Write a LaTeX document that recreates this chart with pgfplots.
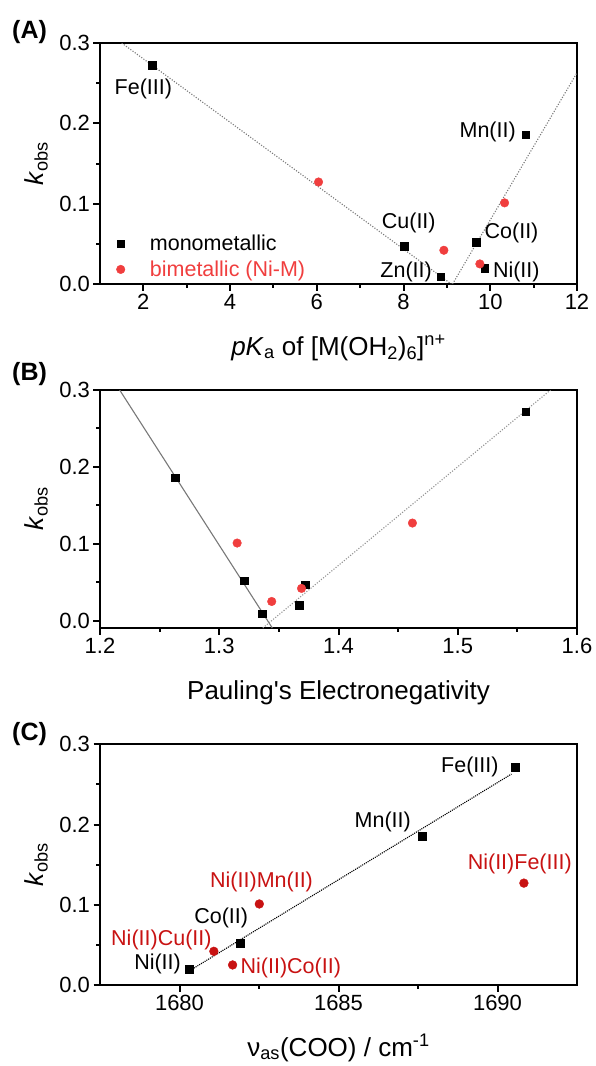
\documentclass[border=0pt]{standalone}
\usepackage{fontspec}
\setmainfont{Liberation Sans}[Ligatures=TeXOff]
\usepackage{pgfplots}
\pgfplotsset{compat=1.18}

\definecolor{lightred}{RGB}{240,62,62}
\definecolor{darkred}{RGB}{200,18,18}
\definecolor{fitgray}{RGB}{120,120,120}

\tikzset{note/.style={font=\fontsize{21.5}{25}\selectfont, inner sep=0pt}}

\pgfplotsset{
  panel/.style={
    scale only axis, width=477pt, anchor=north west,
    axis line style={line width=2pt},
    every tick/.style={line width=2pt, black},
    major tick length=6.5pt, minor tick length=3.8pt,
    tick align=outside, tick pos=left,
    minor tick num=1,
    /pgf/number format/assume math mode=true,
    ticklabel style={font=\fontsize{22}{26}\selectfont},
    every axis x label/.style={at={(axis description cs:0.5,0)}, anchor=base, yshift=-71pt,
      font=\fontsize{26}{30}\selectfont},
    every axis y label/.style={at={(axis description cs:-0.134,0.5)}, rotate=90, anchor=center,
      font=\fontsize{26}{30}\selectfont},
    ylabel={\textit{k}\textsubscript{obs}},
    ytick={0,0.1,0.2,0.3},
    yticklabel style={/pgf/number format/.cd, fixed, fixed zerofill, precision=1},
    clip mode=individual,
  },
  mono/.style={only marks, mark=square*, mark size=3.8pt, black,
    legend image code/.code={\path (-4pt,0pt) (28pt,0pt); \draw[##1] plot coordinates {(0pt,0pt)};}},
  bi/.style={only marks, mark=*, mark size=4.3pt, color=lightred,
    legend image code/.code={\path (-4pt,0pt) (28pt,0pt); \draw[##1] plot coordinates {(0pt,0pt)};}},
}

\begin{document}
\begin{tikzpicture}
\useasboundingbox (0,0) rectangle (596pt,-1066pt);

% (A) rate constant against the pKa of the hexaaqua ion
\begin{axis}[panel, at={(100pt,-43pt)}, height=241pt,
  xmin=1, xmax=12, ymin=0, ymax=0.3, xtick={2,4,6,8,10,12},
  xlabel={\textit{p}\textit{K}\textsubscript{a} of [M(OH\textsubscript{2})\textsubscript{6}]\textsuperscript{n+}},
  legend style={at={(axis description cs:0.034,0.2075)}, anchor=north west,
    draw=none, fill=none, inner sep=0pt, row sep=6.6pt,
    nodes={inner sep=1pt}, cells={anchor=west},
    font=\fontsize{21.5}{25}\selectfont},
]
\addplot[forget plot, fitgray, line width=1.1pt, dash pattern=on 1.1pt off 1.6pt]
  coordinates {(1.50,0.3) (9.10,0)};
\addplot[forget plot, fitgray, line width=1.1pt, dash pattern=on 1.1pt off 1.6pt]
  coordinates {(9.13,0) (12,0.263)};
\addplot[mono] table {
x y
2.20 0.272
8.02 0.047
8.86 0.009
9.67 0.052
9.87 0.020
10.82 0.186
};
\addlegendentry{monometallic}
\addplot[bi] table {
x y
6.04 0.127
8.93 0.042
9.76 0.025
10.33 0.101
};
\addlegendentry{\textcolor{lightred}{bimetallic (Ni-M)}}
\node[note] at (axis cs:2.00,0.243) {Fe(III)};
\node[note] at (axis cs:9.94,0.189) {Mn(II)};
\node[note] at (axis cs:8.12,0.0765) {Cu(II)};
\node[note] at (axis cs:10.49,0.063) {Co(II)};
\node[note] at (axis cs:8.06,0.0154) {Zn(II)};
\node[note] at (axis cs:10.60,0.0154) {Ni(II)};
\end{axis}

% (B) rate constant against Pauling electronegativity
\begin{axis}[panel, at={(100pt,-390pt)}, height=238pt,
  xmin=1.2, xmax=1.6, ymin=-0.0095, ymax=0.3, xtick={1.2,1.3,1.4,1.5,1.6},
  xticklabel style={/pgf/number format/.cd, fixed, fixed zerofill, precision=1},
  xlabel={Pauling's Electronegativity},
]
\addplot[fitgray, line width=1.1pt] coordinates {(1.2165,0.3) (1.3445,-0.0095)};
\addplot[fitgray!80, line width=1.1pt, dash pattern=on 1.1pt off 1.6pt]
  coordinates {(1.3365,-0.0095) (1.5778,0.3)};
\addplot[mono] table {
x y
1.263 0.186
1.321 0.052
1.336 0.009
1.367 0.020
1.372 0.047
1.557 0.272
};
\addplot[bi] table {
x y
1.315 0.101
1.344 0.025
1.369 0.042
1.462 0.127
};
\end{axis}

% (C) rate constant against the asymmetric carboxylate stretch
\begin{axis}[panel, at={(100pt,-744.3pt)}, height=240.7pt,
  xmin=1677.5, xmax=1692.5, ymin=0, ymax=0.3, xtick={1680,1685,1690},
  xticklabel style={/pgf/number format/1000 sep={}},
  xlabel={ν\textsubscript{as}(COO) / cm\textsuperscript{-1}},
]
\addplot[black, line width=1.1pt, dash pattern=on 1.1pt off 1pt]
  coordinates {(1680.45,0.021) (1690.44,0.263)};
\addplot[mono, mark size=4pt] table {
x y
1680.31 0.020
1681.92 0.052
1687.63 0.186
1690.55 0.272
};
\addplot[bi, color=darkred, mark size=4.4pt] table {
x y
1681.08 0.042
1681.67 0.025
1682.51 0.101
1690.83 0.127
};
\node[note] at (axis cs:1689.13,0.272) {Fe(III)};
\node[note] at (axis cs:1686.39,0.203) {Mn(II)};
\node[note, text=darkred] at (axis cs:1690.70,0.151) {Ni(II)Fe(III)};
\node[note, text=darkred] at (axis cs:1682.58,0.128) {Ni(II)Mn(II)};
\node[note] at (axis cs:1681.31,0.0834) {Co(II)};
\node[note, text=darkred] at (axis cs:1679.43,0.0559) {Ni(II)Cu(II)};
\node[note] at (axis cs:1679.31,0.0259) {Ni(II)};
\node[note, text=darkred] at (axis cs:1683.50,0.0217) {Ni(II)Co(II)};
\end{axis}

% panel letters
\node[font=\bfseries\fontsize{25}{29}\selectfont, anchor=base west, inner sep=0pt] at (12pt,-38pt) {(A)};
\node[font=\bfseries\fontsize{25}{29}\selectfont, anchor=base west, inner sep=0pt] at (12pt,-380pt) {(B)};
\node[font=\bfseries\fontsize{25}{29}\selectfont, anchor=base west, inner sep=0pt] at (12pt,-740pt) {(C)};
\end{tikzpicture}
\end{document}
